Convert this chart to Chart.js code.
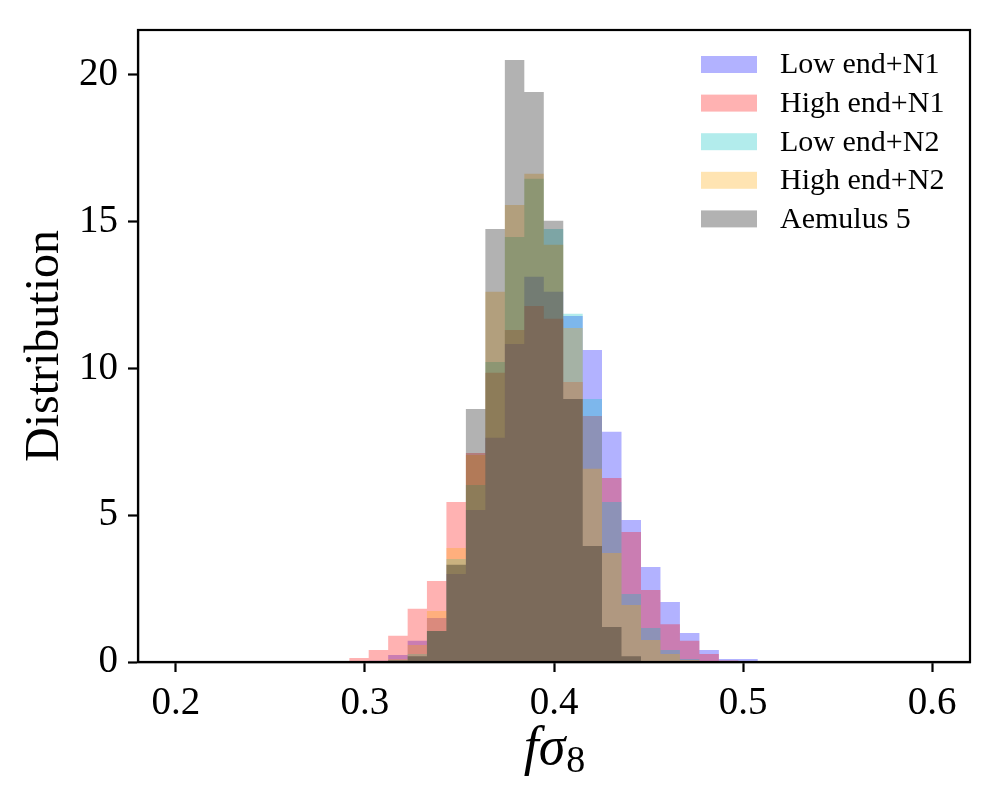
<!DOCTYPE html>
<html>
<head>
<meta charset="utf-8">
<script src="https://cdn.jsdelivr.net/npm/chart.js@4.4.1/dist/chart.umd.min.js"></script>
<style>
  html, body { margin: 0; padding: 0; background: #ffffff; }
  #wrap { width: 1000px; height: 800px; }
</style>
</head>
<body>
<div id="wrap"><canvas id="c" width="1000" height="800"></canvas></div>
<script>
// Histogram bin edges (f sigma_8), shared by all series
const binEdges = [0.2917, 0.3020, 0.3123, 0.3226, 0.3328, 0.3431, 0.3534, 0.3637, 0.3740, 0.3843, 0.3946,
                  0.4049, 0.4152, 0.4254, 0.4357, 0.4460, 0.4563, 0.4666, 0.4769, 0.4872, 0.4975, 0.5078];

// Densities per bin
const lowEndN1  = [0, 0.04, 0.24, 0.72, 1.50, 3.00, 5.18, 7.64, 10.83, 13.12, 12.61, 11.79, 10.63, 7.84, 4.84, 3.24, 2.04, 0.99, 0.41, 0.10, 0.10];
const highEndN1 = [0.14, 0.41, 0.89, 1.81, 2.76, 5.45, 7.12, 9.85, 11.31, 12.13, 11.69, 9.54, 8.38, 6.27, 4.43, 2.45, 1.29, 0.72, 0.27, 0.05, 0.02];
const lowEndN2  = [0, 0, 0.07, 0.27, 1.06, 3.51, 6.03, 10.22, 14.48, 16.46, 14.75, 11.86, 8.96, 5.45, 2.32, 1.16, 0.41, 0.10, 0.03, 0, 0];
const highEndN2 = [0, 0.02, 0.09, 0.58, 1.74, 3.88, 7.05, 12.61, 15.57, 16.63, 14.21, 11.38, 6.58, 3.71, 1.94, 0.75, 0.27, 0.07, 0, 0, 0];
const aemulus5  = [0, 0, 0.05, 0.20, 1.06, 3.31, 8.62, 14.75, 20.51, 19.42, 15.03, 8.96, 3.95, 1.19, 0.20, 0.03, 0, 0, 0, 0, 0];

const seriesLabels = ['Low end+N1', 'High end+N1', 'Low end+N2', 'High end+N2', 'Aemulus 5'];
const seriesValues = [lowEndN1, highEndN1, lowEndN2, highEndN2, aemulus5];
const seriesColors = ['rgba(0,0,255,0.3)', 'rgba(255,0,0,0.3)', 'rgba(0,191,191,0.3)', 'rgba(255,165,0,0.3)', 'rgba(0,0,0,0.3)'];

const xTicks = [0.2, 0.3, 0.4, 0.5, 0.6];
const yTicks = [0, 5, 10, 15, 20];

const SERIF = "'Liberation Serif', 'DejaVu Serif', serif";

function histPoints(vals) {
  const pts = vals.map((v, i) => ({ x: binEdges[i], y: v }));
  pts.push({ x: binEdges[binEdges.length - 1], y: 0 });
  return pts;
}

const datasets = seriesValues.map((vals, i) => ({
  label: seriesLabels[i],
  data: histPoints(vals),
  stepped: 'before',
  fill: 'origin',
  backgroundColor: seriesColors[i],
  borderColor: 'rgba(0,0,0,0)',
  borderWidth: 0,
  pointRadius: 0,
  pointHoverRadius: 0,
  tension: 0,
  order: seriesValues.length - i
}));

const framePlugin = {
  id: 'frame',
  afterDraw(chart) {
    const { ctx, chartArea: a } = chart;
    ctx.save();
    ctx.strokeStyle = '#000';
    ctx.lineWidth = 2.2;
    ctx.strokeRect(a.left, a.top, a.right - a.left, a.bottom - a.top);

    // legend
    ctx.font = '30px ' + SERIF;
    ctx.textBaseline = 'middle';
    ctx.textAlign = 'left';
    chart.data.datasets.forEach((ds, i) => {
      const yc = a.top + 34.5 + i * 38.6;
      ctx.fillStyle = ds.backgroundColor;
      ctx.fillRect(a.right - 269, yc - 8.5, 56, 17);
      ctx.fillStyle = '#000';
      ctx.fillText(ds.label, a.right - 190, yc + 1);
    });

    // y axis title
    ctx.save();
    ctx.translate(45, (a.top + a.bottom) / 2);
    ctx.rotate(-Math.PI / 2);
    ctx.textAlign = 'center';
    ctx.textBaseline = 'middle';
    ctx.font = '48px ' + SERIF;
    ctx.fillText('Distribution', 0, 0);
    ctx.restore();

    // x axis title: f sigma_8
    const cx = (a.left + a.right) / 2;
    const base = 764;
    ctx.textBaseline = 'alphabetic';
    ctx.font = 'italic 54px ' + SERIF;
    const w1 = ctx.measureText('fσ').width;
    ctx.font = '38px ' + SERIF;
    const w2 = ctx.measureText('8').width;
    let x0 = cx - (w1 + w2) / 2;
    ctx.font = 'italic 54px ' + SERIF;
    ctx.fillText('fσ', x0, base);
    ctx.font = '38px ' + SERIF;
    ctx.fillText('8', x0 + w1 + 1, base + 8);
    ctx.restore();
  }
};

new Chart(document.getElementById('c'), {
  type: 'line',
  data: { datasets },
  plugins: [framePlugin],
  options: {
    responsive: false,
    animation: false,
    devicePixelRatio: 1,
    layout: { padding: { left: 0, right: 30, top: 30, bottom: 0 } },
    plugins: { legend: { display: false }, tooltip: { enabled: false } },
    elements: { line: { borderWidth: 0 } },
    scales: {
      x: {
        type: 'linear',
        min: 0.18,
        max: 0.62,
        afterBuildTicks: (s) => { s.ticks = xTicks.map(v => ({ value: v })); },
        afterFit: (s) => { s.height = 138; },
        ticks: {
          color: '#000',
          font: { family: SERIF, size: 39 },
          padding: 8,
          maxRotation: 0,
          callback: (v) => Number(v).toFixed(1)
        },
        grid: { display: true, drawOnChartArea: false, drawTicks: true, tickLength: 10, tickWidth: 2.2, tickColor: '#000' },
        border: { display: true, color: '#000', width: 2.2 }
      },
      y: {
        type: 'linear',
        min: 0,
        max: 21.53,
        afterBuildTicks: (s) => { s.ticks = yTicks.map(v => ({ value: v })); },
        afterFit: (s) => { s.width = 138; },
        ticks: {
          color: '#000',
          font: { family: SERIF, size: 39, lineHeight: 0.8 },
          padding: 10,
          callback: (v) => String(v)
        },
        grid: { display: true, drawOnChartArea: false, drawTicks: true, tickLength: 10, tickWidth: 2.2, tickColor: '#000' },
        border: { display: true, color: '#000', width: 2.2 }
      }
    }
  }
});
</script>
</body>
</html>
